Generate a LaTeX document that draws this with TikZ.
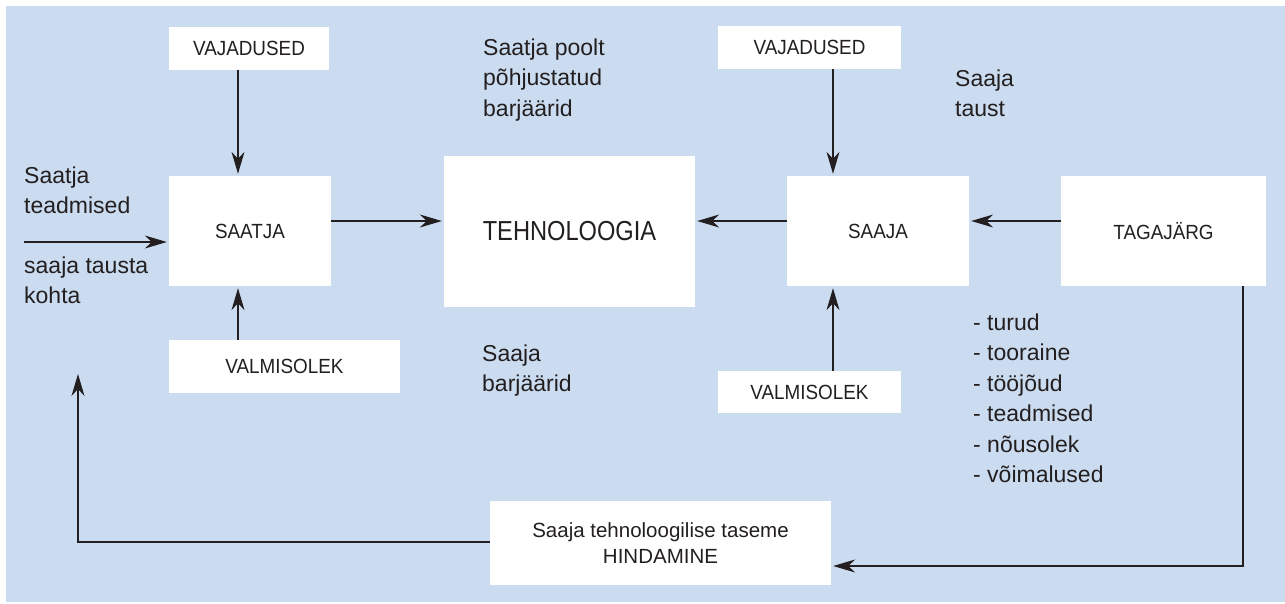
\documentclass[tikz,border=0pt]{standalone}
\usepackage{fontspec}
\setmainfont{Liberation Sans}
\newfontfamily\capsfont{Liberation Sans}[FakeStretch=0.92]
\newfontfamily\bigcapsfont{Liberation Sans}[FakeStretch=0.86]
\usetikzlibrary{arrows.meta}
\definecolor{panel}{RGB}{203,220,240}
\definecolor{ink}{RGB}{35,31,32}

\begin{document}
\begin{tikzpicture}[x=1pt,y=-1pt,
  box/.style={fill=white, draw=none, inner sep=0pt, text=ink, anchor=center, align=center},
  caplabel/.style={font=\capsfont\fontsize{20.5}{24}\selectfont},
  note/.style={anchor=north west, inner sep=0pt, align=left, text=ink,
    font=\fontsize{23}{30.5}\selectfont},
  arr/.style={draw=ink, line width=1.2pt,
    -{Stealth[length=22pt,width=13pt,inset=7pt]}, shorten >=2pt},
  loose/.style={shorten >=0pt}]

\useasboundingbox (0,0) rectangle (1285,603);
\fill[panel] (6,6) rectangle (1285,602);

% boxes
\node[box, caplabel, minimum width=160pt, minimum height=43pt] (vajL) at (249,48.5) {VAJADUSED};
\node[box, caplabel, minimum width=162pt, minimum height=110pt] (saatja) at (250,231) {SAATJA};
\node[box, caplabel, minimum width=231pt, minimum height=53pt] (valL) at (284.5,366.5) {VALMISOLEK};
\node[box, font=\bigcapsfont\fontsize{27.5}{32}\selectfont, minimum width=251pt, minimum height=151pt] (tech) at (569.5,231.5) {TEHNOLOOGIA};
\node[box, caplabel, minimum width=183pt, minimum height=43pt] (vajR) at (809.5,47.5) {VAJADUSED};
\node[box, caplabel, minimum width=182pt, minimum height=110pt] (saaja) at (878,231) {SAAJA};
\node[box, caplabel, minimum width=183pt, minimum height=42pt] (valR) at (809.5,392) {VALMISOLEK};
\node[box, caplabel, minimum width=205pt, minimum height=110pt] (tag) at (1163.5,231) {TAGAJÄRG};
\node[box, font=\fontsize{20.5}{26}\selectfont, minimum width=341pt, minimum height=84pt] (hind) at (660.5,543) {Saaja tehnoloogilise taseme\\HINDAMINE};

% free labels
\node[note] (lblSend) at (24,166.5) {Saatja\\teadmised};
\node[note] (lblAbout) at (24,256.5) {saaja tausta\\kohta};
\node[note] (lblSendBar) at (483,38.5) {Saatja poolt\\põhjustatud\\barjäärid};
\node[note] (lblTaust) at (955,69.5) {Saaja\\taust};
\node[note] (lblRecvBar) at (482,344.5) {Saaja\\barjäärid};
\node[note] (lblList) at (973,313.5) {- turud\\- tooraine\\- tööjõud\\- teadmised\\- nõusolek\\- võimalused};

% connector guides
\coordinate (colL) at (238,0);
\coordinate (colR) at (833,0);
\coordinate (rowM) at (0,221);
\coordinate (inStart) at (24,242);
\coordinate (loopTop) at (78,374);
\coordinate (dropX) at (1243,0);
\coordinate (feedY) at (0,566);
\coordinate (backY) at (0,542);

% connectors
\draw[arr] (vajL.south -| colL) -- (saatja.north -| colL);
\draw[arr] (valL.north -| colL) -- (saatja.south -| colL);
\draw[arr] (inStart) -- (saatja.west |- inStart);
\draw[arr] (saatja.east |- rowM) -- (tech.west |- rowM);
\draw[arr] (saaja.west |- rowM) -- (tech.east |- rowM);
\draw[arr] (tag.west |- rowM) -- (saaja.east |- rowM);
\draw[arr] (vajR.south -| colR) -- (saaja.north -| colR);
\draw[arr] (valR.north -| colR) -- (saaja.south -| colR);
\draw[arr] (tag.south -| dropX) |- (hind.east |- feedY);
\draw[arr, loose] (hind.west |- backY) -| (loopTop);
\end{tikzpicture}
\end{document}
